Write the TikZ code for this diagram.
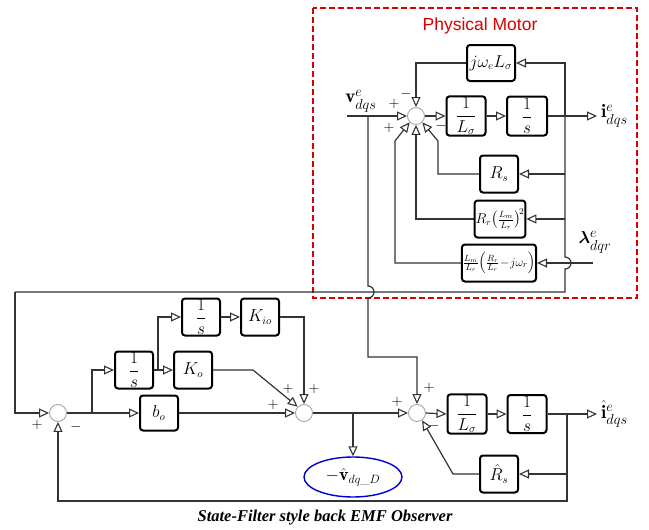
\documentclass[tikz,border=0pt]{standalone}
\usepackage{amsmath,bm}
\usepackage{fontspec}
\newfontfamily\arialf{Liberation Sans}
\newfontfamily\timesf{Liberation Serif}
\usetikzlibrary{arrows.meta,shapes.geometric}
\begin{document}
\begin{tikzpicture}[x=1pt,y=-1pt,
  wire/.style={line width=1.2pt, draw=black!80},
  arr/.style={wire, -{Triangle[open,length=10pt,width=9pt,line width=1.1pt]}},
  blk/.style={draw, line width=2pt, rounded corners=3pt, minimum width=38pt, minimum height=37pt, inner sep=1pt, fill=white, font=\fontsize{16}{18}\selectfont},
  sumc/.style={circle, draw=black!35, line width=0.9pt, minimum size=17pt, inner sep=0pt},
  sgn/.style={font=\fontsize{15}{16}\selectfont, inner sep=0pt},
  lbl/.style={font=\fontsize{19}{21}\selectfont, inner sep=0pt}]
\useasboundingbox (0,0) rectangle (649,530);
% ---------- Physical motor frame
\draw[red!85!black, dash pattern=on 6pt off 3pt, line width=1.1pt] (313,8) rectangle (637,298);
\node[text=red!85!black, font=\arialf\fontsize{17.5}{20}\selectfont] (pm) at (480,26) {Physical Motor};
% ---------- motor nodes
\node[sumc] (sm) at (416,116) {};
\node[blk, minimum width=48pt, minimum height=36pt] (jw) at (491,63) {$j\omega_e L_\sigma$};
\node[blk, minimum width=39pt, minimum height=39pt] (il) at (466,116) {$\dfrac{1}{L_\sigma}$};
\node[blk, minimum width=40pt, minimum height=39pt] (is) at (527,116) {$\dfrac{1}{s}$};
\node[blk] (rs) at (499,174) {$R_s$};
\node[blk, minimum width=47pt, font=\fontsize{13.5}{15}\selectfont] (rr) at (500,219) {$R_r\!\left(\frac{L_m}{L_r}\right)^{\!2}$};
\node[blk, minimum width=68pt, font=\fontsize{12.5}{14}\selectfont] (lm) at (499,263) {$\frac{L_m}{L_r}\!\left(\frac{R_r}{L_r}\!-\!j\omega_r\right)$};
\coordinate (vin) at (347,116);
\coordinate (vb) at (368,116);
\coordinate (ib) at (565,116);
\coordinate (iout) at (597,116);
\coordinate (lin) at (593,263);
\node[lbl] (vlab) at (361,101) {$\mathbf{v}^{e}_{dqs}$};
\node[lbl, anchor=west] (ilab) at (601,116) {$\mathbf{i}^{e}_{dqs}$};
\node[lbl] (llab) at (595,242) {$\bm{\lambda}^{e}_{dqr}$};
% motor connectors
\draw[arr] (vin) -- (sm.west);
\draw[arr] (sm.east) -- (il.west);
\draw[arr] (il.east) -- (is.west);
\draw[arr] (is.east) -- (iout);
\draw[arr] (ib) |- (jw.east);
\draw[arr] (jw.west) -| (sm.north);
\draw[wire] (565,116) -- (565,257) arc[start angle=-90,end angle=90,radius=6] -- (565,292) -- (15,292);
\draw[arr] (565,174) -- (rs.east);
\draw[arr] (565,219) -- (rr.east);
\draw[arr] (lin) -- (lm.east);
\draw[arr] (rs.west) -- (438,174) -- (438,141) -- (sm.-45);
\draw[arr] (rr.west) -| (sm.south);
\draw[arr] (lm.west) -- (395,263) -- (395,141) -- (sm.-135);
% motor signs
\node[sgn] (p1) at (394,104) {$+$};
\node[sgn] (p2) at (389,128) {$+$};
\node[sgn] (m1) at (406,94) {$-$};
\node[sgn] (m2) at (441,126) {$-$};
% ---------- observer nodes
\node[sumc] (ls) at (58,413) {};
\node[blk, minimum height=35pt] (bo) at (159,413) {$b_o$};
\node[blk] (s1) at (134,370) {$\dfrac{1}{s}$};
\node[blk] (ko) at (193,370) {$K_o$};
\node[blk] (s2) at (201,317) {$\dfrac{1}{s}$};
\node[blk] (kio) at (260,317) {$K_{io}$};
\node[sumc] (ms) at (304,413) {};
\node[sumc] (rsm) at (417,413) {};
\node[blk, minimum width=39pt, minimum height=38pt] (il2) at (467,414) {$\dfrac{1}{L_\sigma}$};
\node[blk, minimum width=39pt, minimum height=38pt] (is2) at (527,414) {$\dfrac{1}{s}$};
\node[blk] (rh) at (499,474) {$\hat{R}_s$};
\node[ellipse, draw=blue!80!black, line width=1.4pt, minimum width=98pt, minimum height=40pt, inner sep=0pt, font=\fontsize{18}{20}\selectfont] (el) at (353,477) {$-\hat{\mathbf{v}}_{dq\_D}$};
\coordinate (out2) at (597,414);
\node[lbl, anchor=west] (ohat) at (601,414) {$\hat{\mathbf{i}}^{e}_{dqs}$};
% observer connectors
\draw[arr] (15,292) -- (15,413) -- (ls.west);
\draw[arr] (ls.east) -- (bo.west);
\draw[arr] (92,413) |- (s1.west);
\draw[arr] (s1.east) -- (ko.west);
\draw[arr] (158,370) |- (s2.west);
\draw[arr] (s2.east) -- (kio.west);
\draw[arr] (kio.east) -| (ms.north);
\draw[arr] (ko.east) -- (253,370) -- (ms.135);
\draw[arr] (bo.east) -- (ms.west);
\draw[arr] (ms.east) -- (rsm.west);
\draw[arr] (353,413) -- (el.north);
\draw[arr] (vb) -- (368,286) arc[start angle=-90,end angle=90,radius=6] -- (368,357) -| (rsm.north);
\draw[arr] (rsm.east) -- (il2.west);
\draw[arr] (il2.east) -- (is2.west);
\draw[arr] (is2.east) -- (out2);
\draw[arr] (567,414) -- (567,501) -| (ls.south);
\draw[arr] (567,474) -- (rh.east);
\draw[arr] (rh.west) -- (453,474) -- (rsm.-55);
% observer signs
\node[sgn] (q1) at (37,425) {$+$};
\node[sgn] (q2) at (76,427) {$-$};
\node[sgn] (q3) at (273,405) {$+$};
\node[sgn] (q4) at (288,389) {$+$};
\node[sgn] (q5) at (314,389) {$+$};
\node[sgn] (q6) at (397,402) {$+$};
\node[sgn] (q7) at (429,388) {$+$};
\node[sgn] (q8) at (434,426) {$-$};
% caption
\node[font=\timesf\bfseries\itshape\fontsize{16.5}{18}\selectfont] (cap) at (325,518) {State-Filter style back EMF Observer};
\end{tikzpicture}
\end{document}
